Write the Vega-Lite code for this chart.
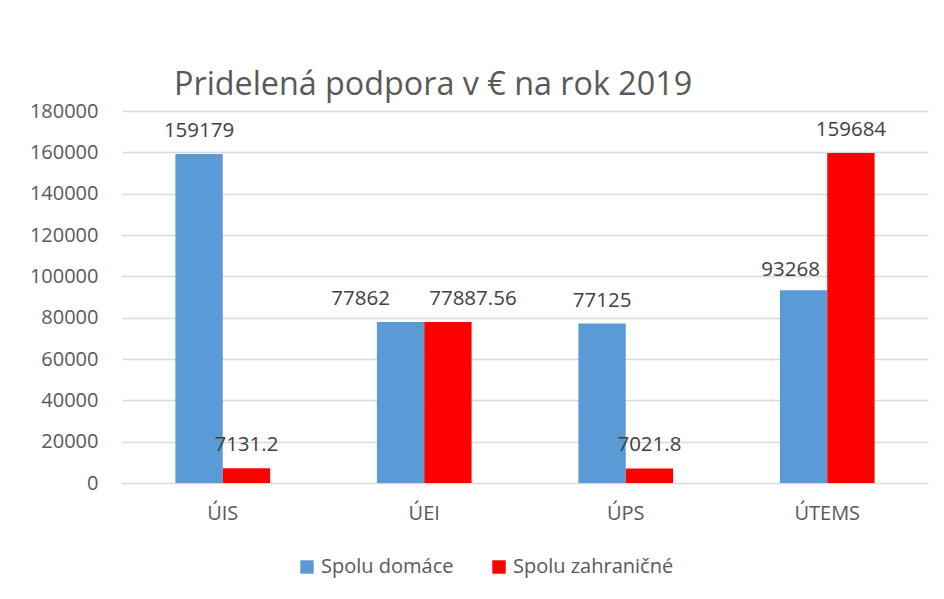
{
  "$schema": "https://vega.github.io/schema/vega-lite/v6.json",
  "autosize": "none",
  "width": 806,
  "height": 372,
  "padding": {"left": 122, "top": 111, "right": 16, "bottom": 116},
  "background": "white",
  "title": {
    "text": "Pridelená podpora v € na rok 2019",
    "anchor": "start",
    "frame": "group",
    "dx": 52,
    "offset": 0,
    "font": "Open Sans",
    "fontSize": 32.3,
    "fontWeight": "normal",
    "color": "#595959"
  },
  "data": {
    "values": [
      {"ustav": "ÚIS", "typ": "Spolu domáce", "suma": 159179, "label": "159179"},
      {"ustav": "ÚIS", "typ": "Spolu zahraničné", "suma": 7131.2, "label": "7131.2"},
      {"ustav": "ÚEI", "typ": "Spolu domáce", "suma": 77862, "label": "77862"},
      {"ustav": "ÚEI", "typ": "Spolu zahraničné", "suma": 77887.56, "label": "77887.56"},
      {"ustav": "ÚPS", "typ": "Spolu domáce", "suma": 77125, "label": "77125"},
      {"ustav": "ÚPS", "typ": "Spolu zahraničné", "suma": 7021.8, "label": "7021.8"},
      {"ustav": "ÚTEMS", "typ": "Spolu domáce", "suma": 93268, "label": "93268"},
      {"ustav": "ÚTEMS", "typ": "Spolu zahraničné", "suma": 159684, "label": "159684"}
    ]
  },
  "encoding": {
    "x": {
      "field": "ustav",
      "type": "nominal",
      "sort": ["ÚIS", "ÚEI", "ÚPS", "ÚTEMS"],
      "scale": {"paddingInner": 0.53, "paddingOuter": 0.265},
      "axis": {
        "title": null,
        "labelAngle": 0,
        "ticks": false,
        "domain": false,
        "labelPadding": 20,
        "labelFont": "Open Sans",
        "labelFontSize": 20,
        "labelColor": "#595959"
      }
    },
    "xOffset": {"field": "typ", "type": "nominal", "scale": {"paddingInner": 0, "paddingOuter": 0}},
    "y": {
      "field": "suma",
      "type": "quantitative",
      "scale": {"domain": [0, 180000], "nice": false},
      "axis": {
        "title": null,
        "values": [0, 20000, 40000, 60000, 80000, 100000, 120000, 140000, 160000, 180000],
        "format": "d",
        "domain": false,
        "ticks": false,
        "labelPadding": 24,
        "labelFont": "Open Sans",
        "labelFontSize": 20,
        "labelColor": "#595959",
        "gridColor": "#d9d9d9",
        "gridWidth": 1.5
      }
    }
  },
  "layer": [
    {
      "mark": {"type": "bar"},
      "encoding": {
        "color": {
          "field": "typ",
          "type": "nominal",
          "scale": {"domain": ["Spolu domáce", "Spolu zahraničné"], "range": ["#5b9bd5", "#ff0000"]},
          "legend": {
            "title": null,
            "orient": "none",
            "direction": "horizontal",
            "legendX": 175,
            "legendY": 446,
            "symbolType": "square",
            "symbolSize": 180,
            "symbolStrokeWidth": 0,
            "labelFont": "Open Sans",
            "labelFontSize": 20,
            "labelColor": "#595959",
            "labelLimit": 0,
            "columnPadding": 35,
            "labelOffset": 4
          }
        }
      }
    },
    {
      "transform": [{"filter": "datum.label != '77862' && datum.label != '77887.56' && datum.label != '93268'"}],
      "mark": {"type": "text", "dy": -17, "font": "Open Sans", "fontSize": 20.5, "color": "#404040", "baseline": "alphabetic"},
      "encoding": {"text": {"field": "label", "type": "nominal"}}
    },
    {
      "transform": [{"filter": "datum.label == '77862'"}],
      "mark": {"type": "text", "dy": -17, "dx": -40, "font": "Open Sans", "fontSize": 20.5, "color": "#404040", "baseline": "alphabetic"},
      "encoding": {"text": {"field": "label", "type": "nominal"}}
    },
    {
      "transform": [{"filter": "datum.label == '77887.56'"}],
      "mark": {"type": "text", "dy": -17, "dx": 25, "font": "Open Sans", "fontSize": 20.5, "color": "#404040", "baseline": "alphabetic"},
      "encoding": {"text": {"field": "label", "type": "nominal"}}
    },
    {
      "transform": [{"filter": "datum.label == '93268'"}],
      "mark": {"type": "text", "dy": -14, "dx": -13, "font": "Open Sans", "fontSize": 20.5, "color": "#404040", "baseline": "alphabetic"},
      "encoding": {"text": {"field": "label", "type": "nominal"}}
    }
  ],
  "config": {"view": {"stroke": null}}
}
